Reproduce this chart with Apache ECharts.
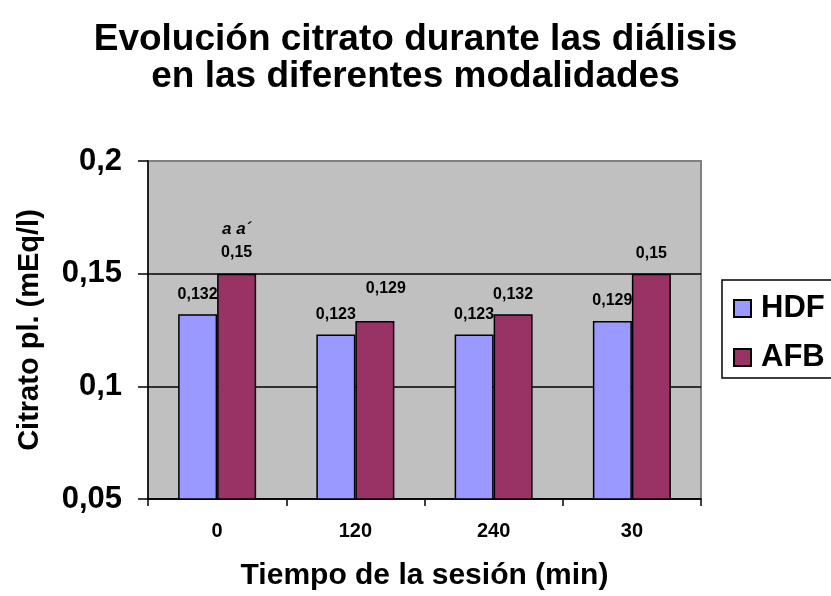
<!DOCTYPE html>
<html>
<head>
<meta charset="utf-8">
<script src="https://cdn.jsdelivr.net/npm/echarts@6/dist/echarts.min.js"></script>
<style>
  html, body { margin: 0; padding: 0; background: #fff; }
  #chart { width: 831px; height: 596px; }
</style>
</head>
<body>
<div id="chart"></div>
<script>
// Plasma citrate during dialysis, by session time and modality
const categories = ['0', '120', '240', '30'];
const seriesNames = ['HDF', 'AFB'];
const hdfValues = [0.132, 0.123, 0.123, 0.129];
const afbValues = [0.15, 0.129, 0.132, 0.15];
const yMin = 0.05, yMax = 0.2, yStep = 0.05;
const significanceMark = 'a a\u00B4';

const FONT = '"Liberation Sans", Arial, sans-serif';
const comma = v => String(parseFloat(v.toFixed(3))).replace('.', ',');

const baseLabel = {
  show: true,
  position: 'top',
  distance: 12,
  fontFamily: FONT,
  fontWeight: 'bold',
  fontSize: 16,
  color: '#000',
  formatter: p => comma(p.value)
};

const hdfData = hdfValues.map(v => ({ value: v }));
const afbData = afbValues.map((v, i) => {
  const item = { value: v };
  if (i === 0) {
    item.label = {
      formatter: p => '{n|' + significanceMark + '}\n{v|' + comma(p.value) + '}',
      rich: {
        n: { fontFamily: FONT, fontWeight: 'bold', fontStyle: 'italic', fontSize: 17, lineHeight: 28, color: '#000' },
        v: { fontFamily: FONT, fontWeight: 'bold', fontSize: 16, lineHeight: 18, color: '#000' }
      }
    };
  }
  if (i === 1) {
    item.label = { distance: 24, offset: [11, 0] };
  }
  return item;
});

const chart = echarts.init(document.getElementById('chart'), null, { renderer: 'canvas' });
chart.setOption({
  animation: false,
  backgroundColor: '#fff',
  textStyle: { fontFamily: FONT },
  title: {
    text: 'Evolución citrato durante las diálisis\nen las diferentes modalidades',
    left: 'center',
    top: 16,
    textStyle: { fontFamily: FONT, fontWeight: 'bold', fontSize: 37, lineHeight: 37, color: '#000' }
  },
  legend: {
    orient: 'vertical',
    left: 722,
    top: 280,
    padding: [13, 30, 5, 11],
    itemGap: 18,
    itemWidth: 17,
    itemHeight: 17,
    backgroundColor: '#fff',
    borderColor: '#000',
    borderWidth: 1.5,
    icon: 'rect',
    textStyle: { fontFamily: FONT, fontWeight: 'bold', fontSize: 31, color: '#000', padding: [0, 0, 0, 5] },
    data: seriesNames
  },
  grid: {
    left: 148, right: 130, top: 161, bottom: 96,
    show: true,
    backgroundColor: '#C0C0C0',
    borderColor: '#808080',
    borderWidth: 2
  },
  xAxis: {
    type: 'category',
    data: categories,
    name: 'Tiempo de la sesión (min)',
    nameLocation: 'middle',
    nameGap: 62,
    nameTextStyle: { fontFamily: FONT, fontWeight: 'bold', fontSize: 30, color: '#000' },
    axisLine: { lineStyle: { color: '#000', width: 1.5 } },
    axisTick: { show: true, length: 7, lineStyle: { color: '#000', width: 1.5 } },
    axisLabel: { fontFamily: FONT, fontWeight: 'bold', fontSize: 20, color: '#000', margin: 22 }
  },
  yAxis: {
    type: 'value',
    min: yMin,
    max: yMax,
    interval: yStep,
    name: 'Citrato pl. (mEq/l)',
    nameLocation: 'middle',
    nameGap: 104,
    nameTextStyle: { fontFamily: FONT, fontWeight: 'bold', fontSize: 29, color: '#000' },
    axisLine: { show: true, lineStyle: { color: '#000', width: 1.5 } },
    axisTick: { show: true, length: 10, lineStyle: { color: '#000', width: 1.5 } },
    axisLabel: { fontFamily: FONT, fontWeight: 'bold', fontSize: 31, color: '#000', margin: 26, formatter: v => comma(v) },
    splitLine: { show: true, lineStyle: { color: ['#000', '#000', '#000', '#808080'], width: 1.5 } }
  },
  series: [
    {
      name: seriesNames[0],
      type: 'bar',
      data: hdfData,
      barWidth: 39,
      barGap: '0%',
      itemStyle: { color: '#9999FF', borderColor: '#000', borderWidth: 1.5 },
      label: baseLabel
    },
    {
      name: seriesNames[1],
      type: 'bar',
      data: afbData,
      barWidth: 39,
      barGap: '0%',
      itemStyle: { color: '#993366', borderColor: '#000', borderWidth: 1.5 },
      label: baseLabel
    }
  ]
});
</script>
</body>
</html>
